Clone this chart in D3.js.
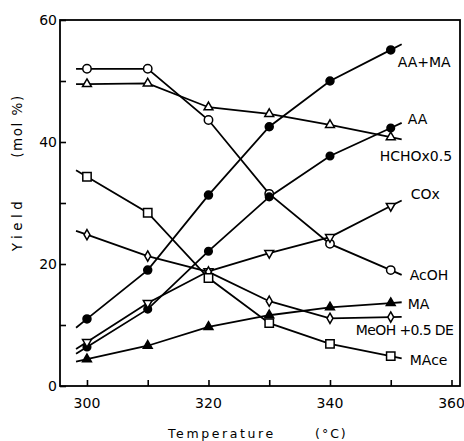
<!DOCTYPE html>
<html><head><meta charset="utf-8">
<script src="https://cdn.jsdelivr.net/npm/d3@7"></script>
<style>
html,body{margin:0;padding:0;background:#fff;}
svg{display:block;font-family:"DejaVu Sans",sans-serif;}
</style></head>
<body><svg id="c" width="464" height="441"></svg>
<script>
const temps = [300, 310, 320, 330, 340, 350];
const acoh   = [52.0, 52.0, 43.6, 31.5, 23.3, 19.0];
const hcho   = [49.5, 49.6, 45.7, 44.6, 42.8, 40.8];
const aama   = [11.0, 19.0, 31.3, 42.5, 50.0, 55.1];
const aa     = [6.4, 12.6, 22.1, 31.0, 37.7, 42.3];
const cox    = [7.2, 13.6, 18.8, 21.8, 24.4, 29.5];
const meoh   = [24.8, 21.3, 18.7, 13.9, 11.1, 11.3];
const ma     = [4.4, 6.6, 9.7, 11.6, 12.9, 13.6];
const mace   = [34.3, 28.4, 17.7, 10.3, 6.9, 4.9];
const seriesNames = ["AcOH", "HCHOx0.5", "AA+MA", "AA", "COx", "MeOH +0.5 DE", "MA", "MAce"];
const xTicks = [300, 310, 320, 330, 340, 350, 360];
const xTickLabels = [300, 320, 340, 360];
const yTicks = [0, 10, 20, 30, 40, 50, 60];
const yTickLabels = [0, 20, 40, 60];

const seriesValues = [acoh, hcho, aama, aa, cox, meoh, ma, mace];
// styles: marker type and label offsets (px, relative to last point)
const styles = {
  "AcOH":        {sym: "circle",  fill: "#fff", dx: 19, dy: 10, r: 4.2},
  "HCHOx0.5":    {sym: "triUp",   fill: "#fff", dx: -11, dy: 24},
  "AA+MA":       {sym: "circle",  fill: "#000", dx: 7, dy: 17, r: 4},
  "AA":          {sym: "circle",  fill: "#000", dx: 17, dy: -4, r: 3.8},
  "COx":         {sym: "triDown", fill: "#fff", dx: 20, dy: -7},
  "MeOH +0.5 DE":{sym: "diamondS",fill: "#fff", dx: -35, dy: 18, ls: -0.6},
  "MA":          {sym: "triUp",   fill: "#000", dx: 17, dy: 6},
  "MAce":        {sym: "square",  fill: "#fff", dx: 19, dy: 9}
};

const svg = d3.select("#c");
const x = d3.scaleLinear().domain([295.56, 361.4]).range([60, 460]);
const y = d3.scaleLinear().domain([0, 60]).range([386, 20]);

// frame
svg.append("rect").attr("x", 60).attr("y", 20).attr("width", 400).attr("height", 366)
  .attr("fill", "none").attr("stroke", "#000").attr("stroke-width", 1.8);

// axes with inward ticks
const xAxis = d3.axisBottom(x).tickValues(xTicks).tickSize(-6).tickFormat("");
const gx = svg.append("g").attr("transform", "translate(0,386)").call(xAxis);
gx.select(".domain").remove();
gx.selectAll("line").attr("stroke", "#000").attr("stroke-width", 1.6);
const yAxis = d3.axisLeft(y).tickValues(yTicks).tickSize(-6).tickFormat("");
const gy = svg.append("g").attr("transform", "translate(60,0)").call(yAxis);
gy.select(".domain").remove();
gy.selectAll("line").attr("stroke", "#000").attr("stroke-width", 1.6);

svg.append("g").selectAll("text").data(xTickLabels).join("text")
  .attr("x", d => x(d)).attr("y", 408).attr("text-anchor", "middle")
  .attr("font-size", 14).text(d => d);
svg.append("g").selectAll("text").data(yTickLabels).join("text")
  .attr("x", 57).attr("y", d => y(d)).attr("dy", "0.36em").attr("text-anchor", "end")
  .attr("font-size", 14).text(d => d);

// axis titles
svg.append("text").attr("x", 168).attr("y", 438).attr("font-size", 12.5)
  .attr("letter-spacing", 2.6).text("Temperature");
svg.append("text").attr("x", 315).attr("y", 438).attr("font-size", 12.5)
  .attr("letter-spacing", 2).text("(°C)");
svg.append("text").attr("transform", "translate(22,224) rotate(-90)").attr("text-anchor", "middle")
  .attr("font-size", 13.5).attr("letter-spacing", 4.5).text("Yield");
svg.append("text").attr("transform", "translate(22,126) rotate(-90)").attr("text-anchor", "middle")
  .attr("font-size", 13.5).attr("letter-spacing", 1.5).text("(mol %)");

// lines with short extension stubs beyond end points
const line = d3.line().x(d => x(d[0])).y(d => y(d[1]));
const ext = 0.18;
seriesValues.forEach((vals, i) => {
  const pts = temps.map((t, j) => [t, vals[j]]);
  const n = pts.length;
  const start = [pts[0][0] - ext * (pts[1][0] - pts[0][0]), pts[0][1] - ext * (pts[1][1] - pts[0][1])];
  const end = [pts[n-1][0] + ext * (pts[n-1][0] - pts[n-2][0]), pts[n-1][1] + ext * (pts[n-1][1] - pts[n-2][1])];
  svg.append("path").datum([start, ...pts, end]).attr("d", line)
    .attr("fill", "none").attr("stroke", "#000").attr("stroke-width", 1.8);
});

// markers
const symPath = {
  triUp: d3.symbol(d3.symbolTriangle, 34)(),
  triDown: d3.symbol(d3.symbolTriangle, 34)(),
  diamondS: d3.symbol(d3.symbolDiamond, 30)(),
  square: d3.symbol(d3.symbolSquare, 70)()
};
seriesValues.forEach((vals, i) => {
  const st = styles[seriesNames[i]];
  const g = svg.append("g");
  temps.forEach((t, j) => {
    if (st.sym === "circle") {
      g.append("circle").attr("cx", x(t)).attr("cy", y(vals[j])).attr("r", st.r || 4.2)
        .attr("fill", st.fill).attr("stroke", "#000").attr("stroke-width", 1.5);
    } else {
      const rot = st.sym === "triDown" ? " rotate(180)" : "";
      g.append("path").attr("d", symPath[st.sym])
        .attr("transform", `translate(${x(t)},${y(vals[j])})${rot}`)
        .attr("fill", st.fill).attr("stroke", "#000").attr("stroke-width", 1.5);
    }
  });
  const n = temps.length;
  svg.append("text").attr("x", x(temps[n-1]) + st.dx).attr("y", y(vals[n-1]) + st.dy)
    .attr("font-size", 14).attr("letter-spacing", st.ls || 0).text(seriesNames[i]);
});
</script></body></html>
